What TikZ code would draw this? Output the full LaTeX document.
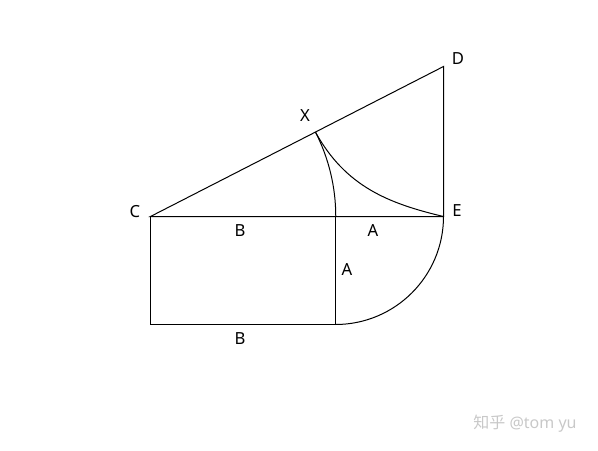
\documentclass[tikz,border=0pt]{standalone}
\usepackage{fontspec}
\setmainfont{Noto Sans}
\newfontfamily\cjkfont{Noto Sans CJK SC}
\usepackage{tikz}
\usetikzlibrary{positioning}
\definecolor{mark}{HTML}{C8C8C8}

\begin{document}
\begin{tikzpicture}[x=0.75pt,y=0.75pt,line width=0.75pt,
  lbl/.style={inner sep=0pt,font=\fontsize{12.5}{14}\selectfont}]
\useasboundingbox (0,0) rectangle (598,450);
\begin{scope}[shift={(0.5,-0.5)}]
% corner points
\coordinate (C) at (150,234);
\coordinate (E) at (443,234);
\coordinate (D) at (443,384);
\coordinate (X) at (315,318.3);
\coordinate (F) at (335,234);
\coordinate (G) at (335,126);
\coordinate (H) at (150,126);
% triangle and rectangle
\draw (C) -- (D) -- (E) -- cycle;
\draw (F) -- (G) -- (H) -- (C);
% arcs
\draw (X) arc[start angle=27.06,end angle=0,radius=185];
\draw (X) .. controls (345,264) and (388,247) .. (E);
\draw (E) arc[start angle=0,end angle=-90,radius=108];
\end{scope}
% labels
\node[lbl] (lC) at (135,238) {C};
\node[lbl] (lD) at (458,391) {D};
\node[lbl] (lX) at (305,334) {X};
\node[lbl] (lE) at (457,239) {E};
\node[lbl] (lB1) at (240,219) {B};
\node[lbl] (lA1) at (373,219) {A};
\node[lbl] (lA2) at (347,180) {A};
\node[lbl] (lB2) at (240,111) {B};
% watermark
\node[inner sep=0pt,text=mark,font=\fontsize{12}{14}\selectfont] (wm) at (525,26) {{\cjkfont 知乎} @tom yu};
\end{tikzpicture}
\end{document}
